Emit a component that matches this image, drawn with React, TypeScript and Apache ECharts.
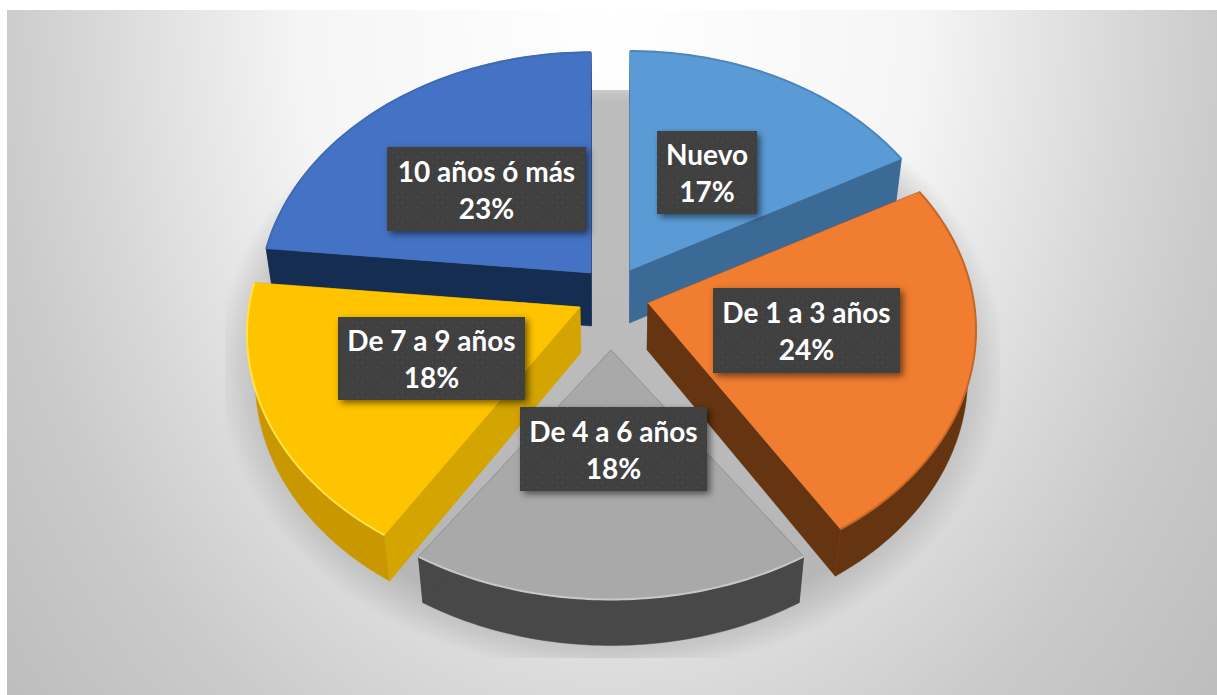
import React, { useEffect, useRef } from "react";
import * as echarts from "echarts";

const categories = ["Nuevo", "De 1 a 3 años", "De 4 a 6 años", "De 7 a 9 años", "10 años ó más"];
const values = [17, 24, 18, 17.6, 23.4];

const topColors = ["#5B9BD5", "#F07D30", "#A9A9A9", "#FFC400", "#4472C4"];
const edgeColors = ["#4C86BC", "#C4682A", "#C8C8C8", "#FFE24A", "#3F6AB6"];
const faceColors = ["#3B6A96", "#643510", "#484848", "#D4A400", "#162D52"];
const rimColors = ["#3B6A96", "#643510", "#484848", "#C99800", "#162D52"];
const sliceZ = [2, 5, 3, 4, 1];

// per-slice layout of the exploded pie: top apex, radii, height
const apexX = [630, 648, 611, 580, 591];
const apexY = [270, 303, 350, 307, 273];
const radiusX = [326, 326, 326, 331, 330];
const radiusY = [243, 243, 222, 245, 245];
const heights = [53, 47, 46, 46, 53];
const PERSPECTIVE = 0.11;
const BOTTOM_SCALE = 0.977;
const CENTER_X = 611;

// label boxes [x0, y0, x1, y1]
const labelBoxes = [
  [657, 131, 757, 214],
  [713, 288, 900, 373],
  [520, 407, 707, 491],
  [338, 317, 525, 400],
  [387, 147, 586, 231],
];

const total = values.reduce((a, b) => a + b, 0);

function topPoint(i: number, deg: number): number[] {
  const t = (deg * Math.PI) / 180;
  const u = Math.sin(t);
  const v = Math.cos(t);
  const w = 1 + PERSPECTIVE * v;
  return [apexX[i] + (radiusX[i] * u) / w, apexY[i] - (radiusY[i] * v) / w];
}
function lower(i: number, p: number[]): number[] {
  return [CENTER_X + (p[0] - CENTER_X) * BOTTOM_SCALE, p[1] + heights[i]];
}

function dotPattern() {
  const c = document.createElement("canvas");
  c.width = 10;
  c.height = 10;
  const g = c.getContext("2d")!;
  g.fillStyle = "#404040";
  g.fillRect(0, 0, 10, 10);
  g.fillStyle = "#525252";
  g.fillRect(2, 2, 1, 1);
  g.fillRect(7, 7, 1, 1);
  return c;
}

export default function App() {
  const ref = useRef<HTMLDivElement>(null);
  useEffect(() => {
    document.body.style.margin = "0";
    document.body.style.background = "#fff";
    const chart = echarts.init(ref.current!, null, { renderer: "svg" });
    const pattern = { image: dotPattern(), repeat: "repeat", imageWidth: 10, imageHeight: 10 };

    const renderSlice = (params: any, api: any) => {
      const i = params.dataIndex;
      const val = api.value(0);
      let before = 0;
      for (let k = 0; k < i; k++) before += values[k];
      const a0 = (before / total) * 360;
      const a1 = ((before + val) / total) * 360;
      const arc: number[][] = [];
      const N = 72;
      for (let k = 0; k <= N; k++) arc.push(topPoint(i, a0 + ((a1 - a0) * k) / N));
      const apex = [apexX[i], apexY[i]];
      const arcLow = arc.map((p) => lower(i, p));
      const z = sliceZ[i] * 10;
      const face = (p: number[], q: number[]) => ({
        type: "polygon",
        z2: z + 1,
        shape: { points: [p, q, lower(i, q), lower(i, p)] },
        style: { fill: faceColors[i], stroke: faceColors[i], lineWidth: 0.5 },
      });
      return {
        type: "group",
        children: [
          {
            type: "polygon",
            z2: z,
            shape: { points: [...arc, ...arcLow.slice().reverse()] },
            style: { fill: rimColors[i], stroke: rimColors[i], lineWidth: 0.5 },
          },
          face(apex, arc[0]),
          face(apex, arc[N]),
          {
            type: "polygon",
            z2: z + 2,
            shape: { points: [apex, ...arc] },
            style: { fill: topColors[i], stroke: topColors[i], lineWidth: 0.5 },
          },
          {
            type: "polyline",
            z2: z + 3,
            shape: { points: arc },
            style: { fill: "none", stroke: edgeColors[i], lineWidth: 2 },
          },
        ],
      };
    };

    const renderLabel = (params: any, api: any) => {
      const i = params.dataIndex;
      const pct = Math.round((api.value(0) / total) * 100);
      const [x0, y0, x1, y1] = labelBoxes[i];
      return {
        type: "group",
        children: [
          {
            type: "rect",
            z2: 100,
            shape: { x: x0, y: y0, width: x1 - x0, height: y1 - y0 },
            style: {
              fill: pattern,
              shadowBlur: 7,
              shadowOffsetX: 3,
              shadowOffsetY: 3,
              shadowColor: "rgba(0,0,0,0.55)",
            },
          },
          {
            type: "text",
            z2: 101,
            x: (x0 + x1) / 2,
            y: (y0 + y1) / 2,
            style: {
              text: `${categories[i]}\n${pct}%`,
              fill: "#ffffff",
              font: "bold 28px Lato",
              lineHeight: 37,
              align: "center",
              verticalAlign: "middle",
            },
          },
        ],
      };
    };

    const W = 1217;
    const H = 695;
    const gx = 775;
    const gy = 1062;
    chart.setOption({
      animation: false,
      graphic: [
        {
          type: "rect",
          z: 0,
          silent: true,
          shape: { x: 610 - gx, y: 10 - gy, width: 2 * gx, height: 2 * gy },
          style: {
            fill: {
              type: "radial",
              x: 0.5,
              y: 0.5,
              r: 0.5,
              colorStops: [
                { offset: 0, color: "#ffffff" },
                { offset: 0.4, color: "#f5f5f5" },
                { offset: 0.6, color: "#dfdfdf" },
                { offset: 0.66, color: "#d8d8d8" },
                { offset: 0.8, color: "#cacaca" },
                { offset: 1, color: "#bebebe" },
              ],
            },
          },
        },
        {
          type: "ellipse",
          z: 1,
          silent: true,
          shape: { cx: 611, cy: 365, rx: 395, ry: 310 },
          clipPath: { type: "rect", shape: { x: 225, y: 90, width: 775, height: 568 } },
          style: {
            fill: {
              type: "radial",
              x: 0.5,
              y: 0.5,
              r: 0.5,
              colorStops: [
                { offset: 0, color: "rgba(172,172,172,0.8)" },
                { offset: 0.85, color: "rgba(172,172,172,0.8)" },
                { offset: 0.93, color: "rgba(172,172,172,0.42)" },
                { offset: 1, color: "rgba(172,172,172,0)" },
              ],
            },
          },
        },
        { type: "rect", z: 2, silent: true, shape: { x: 0, y: 0, width: W, height: 10 }, style: { fill: "#fff" } },
        { type: "rect", z: 2, silent: true, shape: { x: 0, y: 0, width: 7, height: H }, style: { fill: "#fff" } },
      ],
      series: [
        {
          type: "custom",
          coordinateSystem: "none",
          z: 3,
          silent: true,
          data: values.map((v) => [v]),
          renderItem: renderSlice,
        },
        {
          type: "custom",
          coordinateSystem: "none",
          z: 4,
          silent: true,
          data: values.map((v) => [v]),
          renderItem: renderLabel,
        },
      ],
    });
    return () => chart.dispose();
  }, []);
  return <div ref={ref} style={{ width: 1217, height: 695 }} />;
}
